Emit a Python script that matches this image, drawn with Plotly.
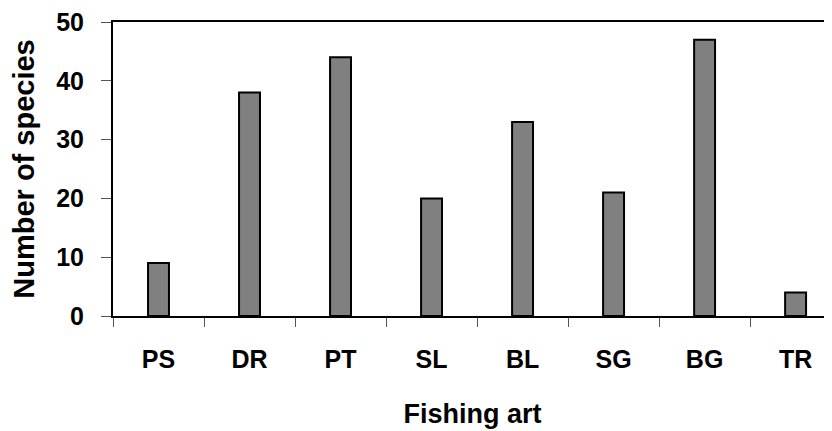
import plotly.graph_objects as go

categories = ["PS", "DR", "PT", "SL", "BL", "SG", "BG", "TR"]
species = [9, 38, 44, 20, 33, 21, 47, 4]
y_ticks = [0, 10, 20, 30, 40, 50]

fig = go.Figure()
fig.add_trace(go.Bar(
    x=categories, y=species, width=0.23,
    marker=dict(color="#808080", line=dict(color="black", width=2)),
))

fam = "Liberation Sans, Arial, sans-serif"

# page body has an 8px margin: figure sized so the page is exactly 832x431
fig.update_layout(
    width=824, height=423,
    margin=dict(l=105, r=0, t=14, b=115),
    paper_bgcolor="white", plot_bgcolor="white",
    showlegend=False,
    font=dict(family=fam, size=25, color="black"),
    xaxis=dict(
        type="category", range=[-0.5, 7.4], automargin=False,
        showline=True, linecolor="black", linewidth=2, mirror=True,
        ticks="outside", tickson="boundaries", ticklen=9, tickcolor="#555", tickwidth=1,
        ticklabelstandoff=20, tickfont=dict(size=25, family=fam, weight="bold"),
        ticklabeloverflow="allow",
        title=dict(text="<b>Fishing art</b>", standoff=32, font=dict(size=27)),
        showgrid=False, zeroline=False,
    ),
    yaxis=dict(
        range=[0, 50], tickvals=y_ticks, automargin=False,
        showline=True, linecolor="black", linewidth=2,
        ticks="outside", ticklen=10, tickcolor="#555", tickwidth=1,
        ticklabelstandoff=12, tickfont=dict(size=25, family=fam, weight="bold"),
        ticklabeloverflow="allow",
        title=dict(text="<b>Number of species</b>", standoff=15, font=dict(size=29)),
        showgrid=False, zeroline=False,
    ),
)

fig.write_html("out.html")
